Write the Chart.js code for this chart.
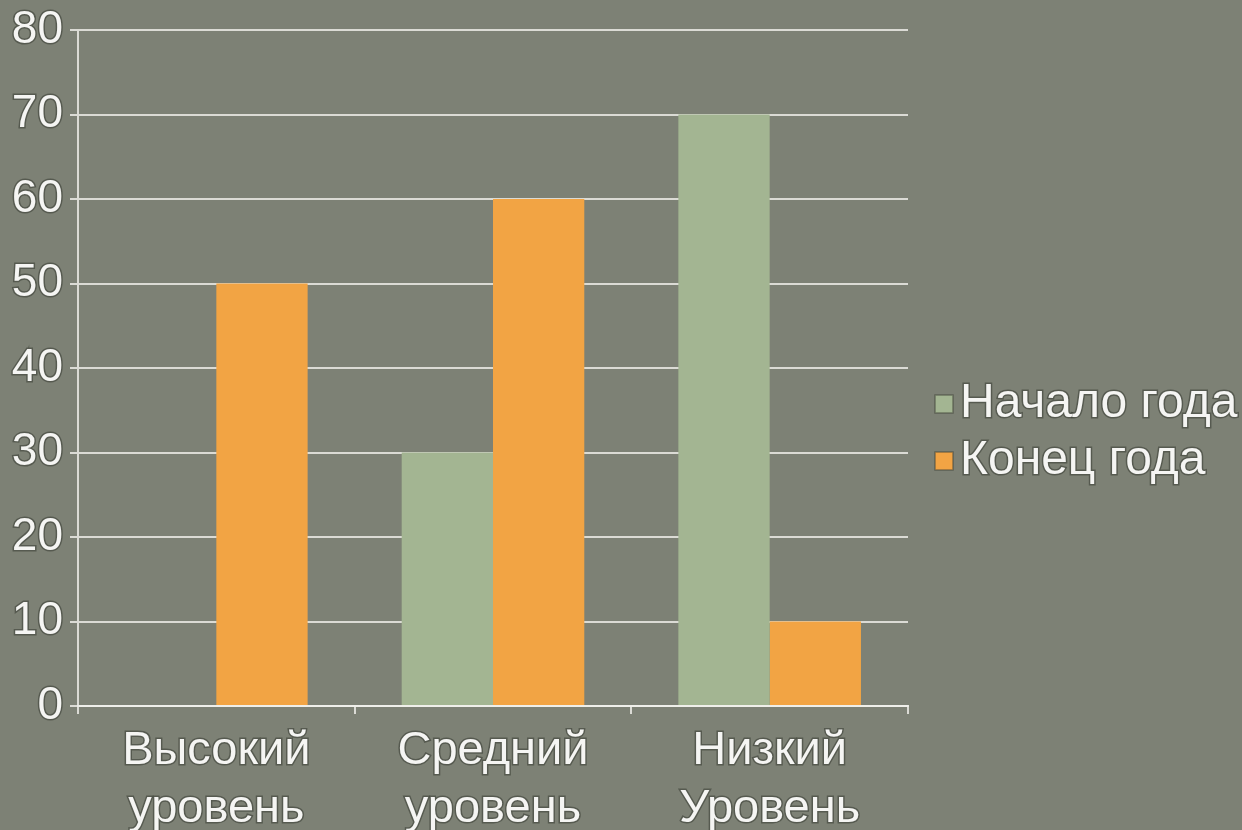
<!DOCTYPE html>
<html>
<head>
<meta charset="utf-8">
<script src="https://cdn.jsdelivr.net/npm/chart.js@4"></script>
<style>
  html, body { margin: 0; padding: 0; background: #7d8175; }
  canvas { display: block; }
</style>
</head>
<body>
<canvas id="chart" width="1242" height="830"></canvas>
<script>
// categories and series
const levels = [['Высокий', 'уровень'], ['Средний', 'уровень'], ['Низкий', 'Уровень']]
const seriesNames = ['Начало года', 'Конец года']
const startOfYear = [0, 30, 70]
const endOfYear = [50, 60, 10]
const yMin = 0
const yMax = 80
const yStep = 10

const textColor = '#f5f5f3'
const outline = 'rgba(55,58,50,0.55)'
const fontFamily = '"Liberation Sans", Arial, sans-serif'

// flat slate background behind the whole canvas
const backdrop = {
    id: 'backdrop',
    beforeDraw(chart) {
        let ctx = chart.ctx
        ctx.save()
        ctx.fillStyle = '#7d8175'
        ctx.fillRect(0, 0, chart.width, chart.height)
        ctx.restore()
    }
}

// legend on the right, square swatches close to the text
const sideLegend = {
    id: 'sideLegend',
    afterDraw(chart) {
        let ctx = chart.ctx
        let area = chart.chartArea
        ctx.save()
        ctx.font = '48px ' + fontFamily
        ctx.textBaseline = 'middle'
        ctx.textAlign = 'left'
        chart.data.datasets.forEach((ds, i) => {
            let y = area.top + 374 + i * 57
            let x = area.right + 27
            ctx.fillStyle = ds.backgroundColor
            ctx.fillRect(x, y - 9, 18, 18)
            ctx.lineWidth = 1.5
            ctx.strokeStyle = 'rgba(70,72,62,0.6)'
            ctx.strokeRect(x, y - 9, 18, 18)
            ctx.lineWidth = 3
            ctx.strokeStyle = outline
            ctx.strokeText(ds.label, x + 25, y)
            ctx.fillStyle = textColor
            ctx.fillText(ds.label, x + 25, y)
        })
        ctx.restore()
    }
}

let ctx = document.getElementById('chart').getContext('2d')

let chart = new Chart(ctx, {
    type: 'bar',
    data: {
        labels: levels,
        datasets: [
            {
                label: seriesNames[0],
                data: startOfYear,
                backgroundColor: '#a3b592'
            },
            {
                label: seriesNames[1],
                data: endOfYear,
                backgroundColor: '#f2a444'
            }
        ]
    },
    options: {
        responsive: false,
        animation: false,
        layout: {
            padding: { top: 30, right: 334, bottom: 0, left: 0 }
        },
        categoryPercentage: 0.66,
        barPercentage: 1.0,
        plugins: {
            legend: { display: false },
            tooltip: { enabled: false }
        },
        scales: {
            x: {
                grid: {
                    offset: true,
                    drawOnChartArea: false,
                    drawTicks: true,
                    tickLength: 8,
                    color: 'rgba(235,235,230,0.85)',
                    lineWidth: 2
                },
                border: { color: 'rgba(240,240,235,0.95)', width: 2 },
                ticks: {
                    color: textColor,
                    font: { family: fontFamily, size: 47, lineHeight: 1.24 },
                    padding: 8,
                    maxRotation: 0,
                    autoSkip: false,
                    textStrokeColor: outline,
                    textStrokeWidth: 3
                },
                afterFit(scale) {
                    scale.height = 124
                }
            },
            y: {
                min: yMin,
                max: yMax,
                grid: {
                    color: 'rgba(235,235,230,0.85)',
                    lineWidth: 2,
                    tickLength: 8
                },
                border: { color: 'rgba(235,235,230,0.85)', width: 2 },
                ticks: {
                    stepSize: yStep,
                    color: textColor,
                    font: { family: fontFamily, size: 46, lineHeight: 1 },
                    padding: 7,
                    textStrokeColor: outline,
                    textStrokeWidth: 3
                },
                afterFit(scale) {
                    scale.width = 78
                }
            }
        }
    },
    plugins: [backdrop, sideLegend]
})
</script>
</body>
</html>
